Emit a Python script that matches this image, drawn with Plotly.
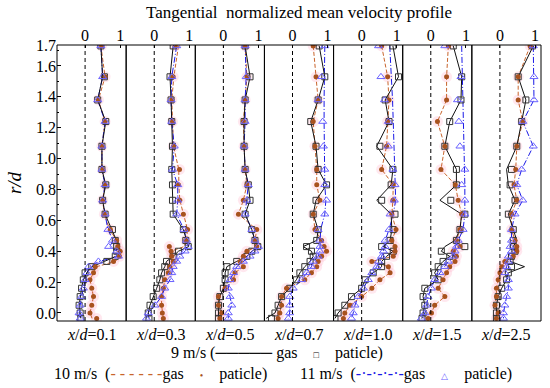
import plotly.graph_objects as go

# ---------------- data ----------------
POSITIONS = ["0.1", "0.3", "0.5", "0.7", "1.0", "1.5", "2.5"]   # x/d of each panel

R = [1.73, 1.53, 1.38, 1.24, 1.08, 0.93, 0.83, 0.73, 0.64, 0.54, 0.47, 0.43,
     0.40, 0.367, 0.334, 0.30, 0.26, 0.215, 0.16, 0.106, 0.05, 0.0, -0.035]

# 9 m/s gas (line) and particle (squares)
GAS9 = [
    [0.45, 0.50, 0.36, 0.59, 0.48, 0.48, 0.59, 0.50, 0.57, 0.75, 0.88, 0.97, 0.98, 0.88, 0.55, 0.19, 0.05, -0.05, -0.10, -0.14, -0.17, -0.14, -0.12],
    [0.54, 0.45, 0.48, 0.50, 0.52, 0.50, 0.52, 0.52, 0.54, 0.83, 0.92, 0.98, 0.69, 0.54, 0.35, 0.30, 0.21, 0.16, 0.07, -0.03, -0.12, -0.17, -0.15],
    [0.62, 0.76, 0.62, 0.59, 0.59, 0.62, 0.71, 0.76, 0.62, 0.81, 0.90, 1.00, 0.81, 0.67, 0.38, 0.10, 0.05, 0.05, 0.00, -0.10, -0.14, -0.14, -0.14],
    [0.76, 0.92, 0.73, 0.52, 0.67, 0.73, 0.97, 0.67, 0.59, 0.73, 0.69, 0.30, 0.54, 0.59, 0.50, 0.35, 0.21, 0.11, -0.08, -0.31, -0.41, -0.50, -0.75],
    [0.89, 1.05, 0.67, 0.78, 0.43, 0.89, 0.84, 0.43, 0.84, 0.86, 0.81, 0.62, 0.90, 0.71, 0.57, 0.57, 0.33, 0.10, 0.00, -0.29, -0.48, -0.67, -0.76],
    [0.64, 0.88, 0.86, 0.54, 0.40, 0.73, 0.73, 0.26, 0.88, 0.83, 0.69, 0.40, 0.30, 0.54, 0.35, 0.21, 0.11, 0.21, -0.17, -0.22, -0.17, -0.22, -0.25],
    [0.95, 0.52, 0.74, 0.62, 0.48, 0.19, 0.24, 0.43, 0.24, 0.38, 0.48, 0.38, 0.43, 0.33, 0.29, 0.70, 0.24, 0.19, 0.05, -0.05, -0.10, -0.10, -0.10],
]
PART9 = [
    [0.45, 0.55, 0.36, 0.59, 0.48, 0.48, 0.59, 0.50, 0.57, 0.78, 0.86, 0.90, 0.90, 0.86, 0.62, 0.19, 0.00, -0.05, -0.10, -0.14, -0.17, -0.14, -0.12],
    [0.54, 0.45, 0.48, 0.50, 0.52, 0.50, 0.52, 0.52, 0.54, 0.83, 0.90, 0.97, 0.69, 0.54, 0.35, 0.30, 0.21, 0.16, 0.07, -0.03, -0.12, -0.17, -0.15],
    [0.62, 0.76, 0.62, 0.59, 0.59, 0.62, 0.71, 0.76, 0.62, 0.81, 0.90, 0.98, 0.81, 0.67, 0.38, 0.10, 0.05, 0.05, 0.00, -0.10, -0.14, -0.14, -0.14],
    [0.76, 0.92, 0.73, 0.52, 0.67, 0.73, 0.97, 0.67, 0.59, 0.73, 0.69, 0.40, 0.54, 0.59, 0.50, 0.35, 0.21, 0.11, -0.08, -0.31, -0.41, -0.50, -0.60],
    [0.89, 1.05, 0.67, 0.78, 0.52, 0.89, 0.84, 0.57, 0.95, 0.90, 0.81, 0.57, 0.90, 0.71, 0.57, 0.57, 0.33, 0.10, 0.00, -0.29, -0.48, -0.67, -0.76],
    [0.64, 0.88, 0.86, 0.54, 0.40, 0.73, 0.73, 0.57, 0.97, 0.83, 0.73, 0.97, 0.30, 0.54, 0.35, 0.21, 0.11, 0.21, -0.17, -0.22, -0.17, -0.22, -0.25],
    [0.93, 0.52, 0.74, 0.62, 0.48, 0.33, 0.29, 0.43, 0.24, 0.38, 0.38, 0.38, 0.43, 0.33, 0.29, 0.33, 0.24, 0.19, 0.05, -0.05, -0.10, -0.10, -0.10],
]
# 10 m/s gas (dashed) and particle (dots)
GAS10 = [
    [0.45, 0.57, 0.38, 0.57, 0.48, 0.48, 0.57, 0.50, 0.55, 0.70, 0.90, 0.95, 1.00, 1.00, 0.86, 0.33, 0.24, 0.14, 0.19, 0.24, 0.19, 0.14, 0.20],
    [0.69, 0.56, 0.50, 0.52, 0.55, 0.70, 0.70, 0.73, 0.83, 0.95, 0.92, 0.85, 0.48, 0.45, 0.54, 0.45, 0.40, 0.30, 0.26, 0.21, 0.21, 0.23, 0.26],
    [0.62, 0.67, 0.62, 0.57, 0.59, 0.62, 0.67, 0.57, 0.43, 0.95, 0.90, 0.95, 0.67, 0.57, 0.48, 0.57, 0.33, 0.29, 0.05, -0.14, -0.14, -0.05, -0.10],
    [0.59, 0.67, 0.73, 0.59, 0.64, 0.69, 0.69, 0.78, 0.59, 0.64, 0.83, 0.90, 0.97, 0.83, 0.73, 0.69, 0.54, 0.35, -0.17, -0.31, -0.31, -0.36, -0.41],
    [0.57, 0.74, 0.78, 0.74, 0.71, 0.57, 0.90, 0.89, 0.86, 0.98, 0.86, 0.95, 0.95, 0.90, 0.29, 0.76, 0.81, 0.52, 0.29, 0.00, -0.33, -0.48, -0.52],
    [0.50, 0.45, 0.45, 0.19, 0.40, 0.29, 0.70, 0.78, 0.88, 0.83, 0.73, 0.83, 0.64, 0.73, 0.69, 0.54, 0.45, 0.35, 0.21, 0.40, 0.11, 0.02, -0.08],
    [0.86, 0.52, 0.52, 0.65, 0.48, 0.45, 0.40, 0.48, 0.33, 0.33, 0.43, 0.48, 0.48, 0.38, 0.14, 0.05, 0.00, -0.05, -0.10, -0.10, -0.14, -0.05, -0.10],
]
PART10 = [
    [0.47, 0.57, 0.38, 0.57, 0.48, 0.50, 0.57, 0.50, 0.55, 0.72, 0.90, 0.93, 1.00, 0.98, 0.81, 0.29, 0.24, 0.14, 0.19, 0.24, 0.19, 0.14, 0.33],
    [0.60, 0.54, 0.50, 0.52, 0.55, 0.72, 0.69, 0.73, 0.83, 0.95, 0.90, 0.43, 0.48, 0.50, 0.54, 0.45, 0.40, 0.30, 0.26, 0.21, 0.21, 0.23, 0.26],
    [0.62, 0.67, 0.62, 0.57, 0.59, 0.62, 0.67, 0.57, 0.43, 0.95, 0.90, 0.95, 0.67, 0.57, 0.48, 0.57, 0.33, 0.29, 0.05, -0.14, -0.14, -0.05, -0.10],
    [0.59, 0.67, 0.73, 0.59, 0.64, 0.69, 0.69, 0.78, 0.59, 0.64, 0.83, 0.90, 0.97, 0.83, 0.73, 0.69, 0.54, 0.35, -0.17, -0.31, -0.31, -0.36, -0.41],
    [0.57, 0.74, 0.78, 0.74, 0.71, 0.57, 0.90, 0.89, 0.86, 0.98, 0.86, 0.95, 0.95, 0.90, 0.29, 0.76, 0.81, 0.52, 0.29, 0.00, -0.33, -0.48, -0.52],
    [0.50, 0.45, 0.45, 0.19, 0.40, 0.29, 0.70, 0.78, 0.88, 0.83, 0.73, 0.83, 0.64, 0.73, 0.69, 0.54, 0.45, 0.35, 0.21, 0.40, 0.11, 0.02, -0.08],
    [0.86, 0.52, 0.52, 0.65, 0.48, 0.45, 0.40, 0.48, 0.33, 0.33, 0.43, 0.48, 0.48, 0.38, 0.14, 0.05, 0.00, -0.05, -0.10, -0.10, -0.14, -0.05, -0.10],
]
# 11 m/s gas (dash-dot) and particle (triangles)
GAS11 = [
    [0.45, 0.50, 0.36, 0.57, 0.48, 0.48, 0.57, 0.50, 0.57, 0.65, 0.80, 0.70, 0.92, 0.95, 0.40, 0.14, 0.05, 0.00, -0.05, -0.10, -0.14, -0.17, -0.14],
    [0.64, 0.50, 0.48, 0.50, 0.57, 0.52, 0.67, 0.67, 0.64, 0.85, 0.92, 0.97, 0.88, 0.73, 0.64, 0.54, 0.50, 0.45, 0.30, 0.21, 0.02, -0.17, -0.22],
    [0.62, 0.65, 0.62, 0.62, 0.59, 0.62, 0.71, 0.67, 0.62, 0.81, 0.90, 1.00, 0.90, 0.76, 0.57, 0.38, 0.29, 0.19, 0.14, 0.19, 0.24, 0.14, 0.14],
    [0.92, 0.90, 0.90, 0.90, 0.90, 0.92, 0.92, 0.95, 0.92, 0.80, 0.78, 0.78, 0.78, 0.73, 0.59, 0.54, 0.40, 0.26, 0.02, -0.08, -0.08, -0.08, -0.12],
    [0.80, 0.85, 0.88, 0.90, 0.92, 0.94, 0.97, 0.97, 0.90, 0.78, 0.67, 0.67, 0.62, 0.57, 0.48, 0.43, 0.29, 0.19, 0.05, -0.10, -0.19, -0.24, -0.29],
    [0.88, 0.90, 0.92, 0.94, 0.95, 0.97, 0.97, 0.97, 0.97, 0.92, 0.78, 0.70, 0.69, 0.64, 0.50, 0.40, 0.26, 0.11, 0.02, -0.08, -0.12, -0.17, -0.27],
    [0.95, 0.97, 0.97, 0.65, 0.95, 0.62, 0.48, 0.65, 0.43, 0.33, 0.33, 0.29, 0.33, 0.24, 0.24, 0.19, 0.14, 0.24, 0.24, 0.19, 0.14, 0.10, 0.10],
]
PART11 = [
    [0.45, 0.50, 0.36, 0.57, 0.48, 0.48, 0.57, 0.50, 0.57, 0.65, 0.78, 0.67, 0.90, 0.95, 0.38, 0.10, 0.05, 0.00, -0.05, -0.10, -0.14, -0.17, -0.14],
    [0.64, 0.50, 0.48, 0.50, 0.57, 0.52, 0.67, 0.67, 0.64, 0.85, 0.92, 0.97, 0.88, 0.73, 0.64, 0.54, 0.50, 0.45, 0.30, 0.21, 0.02, -0.17, -0.22],
    [0.62, 0.65, 0.62, 0.62, 0.59, 0.62, 0.71, 0.67, 0.62, 0.81, 0.90, 1.00, 0.90, 0.76, 0.57, 0.38, 0.29, 0.19, 0.14, 0.19, 0.24, 0.14, 0.14],
    [0.92, 0.83, 0.73, 0.86, 0.88, 0.92, 0.92, 0.97, 0.92, 0.73, 0.78, 0.78, 0.78, 0.73, 0.59, 0.54, 0.40, 0.26, 0.02, -0.08, -0.08, -0.08, -0.12],
    [0.48, 0.55, 0.65, 0.76, 0.76, 0.89, 0.95, 0.93, 0.81, 0.78, 0.67, 0.67, 0.62, 0.57, 0.48, 0.43, 0.29, 0.19, 0.05, -0.10, -0.19, -0.24, -0.29],
    [0.40, 0.86, 0.76, 0.80, 0.83, 0.97, 0.88, 0.97, 0.97, 0.92, 0.78, 0.73, 0.69, 0.64, 0.50, 0.40, 0.26, 0.11, 0.02, -0.08, -0.12, -0.17, -0.27],
    [0.95, 0.97, 0.97, 0.65, 0.95, 0.62, 0.48, 0.65, 0.43, 0.33, 0.33, 0.29, 0.33, 0.24, 0.24, 0.19, 0.14, 0.24, 0.24, 0.19, 0.14, 0.10, 0.10],
]

X_TICKS = [0, 1]
X_TICK_LABELS = ["0", "1"]
Y_TICKS = [0.0, 0.2, 0.4, 0.6, 0.8, 1.0, 1.2, 1.4, 1.6, 1.736]
Y_TICK_LABELS = ["0.0", "0.2", "0.4", "0.6", "0.8", "1.0", "1.2", "1.4", "1.6", "1.7"]

# ---------------- style ----------------
FONT = "Liberation Serif"
BLACK = "#111111"
RED_LINE = "#c8642c"
RED_DOT = "#a8521e"
PINK = "rgba(255,150,180,0.22)"
BLUE_LINE = "#1a1ae6"
BLUE_MARK = "#6b63ff"

fig = go.Figure()
n = len(POSITIONS)
w = 1.0 / n

for i in range(n):
    xa = "x" if i == 0 else f"x{i+1}"
    common = dict(xaxis=xa, yaxis="y", showlegend=False, hoverinfo="skip")
    fig.add_trace(go.Scatter(x=PART10[i], y=R, mode="markers",
                             marker=dict(symbol="circle", size=11, color=PINK, line=dict(width=0)), **common))
    fig.add_trace(go.Scatter(x=GAS10[i], y=R, mode="lines",
                             line=dict(color=RED_LINE, width=1, dash="4px,2px"), **common))
    fig.add_trace(go.Scatter(x=GAS11[i], y=R, mode="lines",
                             line=dict(color=BLUE_LINE, width=1, dash="6px,2px,1px,2px"), **common))
    fig.add_trace(go.Scatter(x=GAS9[i], y=R, mode="lines",
                             line=dict(color=BLACK, width=1), **common))
    fig.add_trace(go.Scatter(x=PART9[i], y=R, mode="markers",
                             marker=dict(symbol="square-open", size=6, color="#333333", line=dict(width=1)), **common))
    fig.add_trace(go.Scatter(x=PART10[i], y=R, mode="markers",
                             marker=dict(symbol="circle", size=5, color=RED_DOT, line=dict(width=0)), **common))
    fig.add_trace(go.Scatter(x=PART11[i], y=R, mode="markers",
                             marker=dict(symbol="triangle-up-open", size=7, color=BLUE_MARK, line=dict(width=1)), **common))

layout = dict(
    width=550, height=388,
    margin=dict(l=57, r=9, t=45, b=67, autoexpand=False),
    paper_bgcolor="white", plot_bgcolor="white",
    font=dict(family=FONT, size=16, color="black"),
    yaxis=dict(range=[-0.052, 1.736], tickvals=Y_TICKS, ticktext=Y_TICK_LABELS,
               ticks="inside", ticklen=4, tickcolor="black", showgrid=False, zeroline=False,
               showline=False, automargin=False, tickfont=dict(size=16, family=FONT),
               minor=dict(tickvals=[0.1, 0.3, 0.5, 0.7, 0.9, 1.1, 1.3, 1.5, 1.7],
                          ticks="inside", ticklen=2, tickcolor="black"),
               title=dict(text="<i>r/d</i>", font=dict(size=19, family=FONT), standoff=9)),
)
shapes = []
annotations = []
for i in range(n):
    key = "xaxis" if i == 0 else f"xaxis{i+1}"
    ref = "x" if i == 0 else f"x{i+1}"
    layout[key] = dict(domain=[i * w, (i + 1) * w], range=[-0.8, 1.17], anchor="y",
                       side="top", tickvals=X_TICKS, ticktext=X_TICK_LABELS,
                       ticks="inside", ticklen=3, tickcolor="black", automargin=False,
                       showgrid=False, zeroline=False, showline=False,
                       tickfont=dict(size=16, family=FONT))
    shapes.append(dict(type="rect", xref=f"{ref} domain", yref="y domain",
                       x0=0, x1=1, y0=0, y1=1, line=dict(color="black", width=1)))
    shapes.append(dict(type="line", xref=ref, yref="y domain", x0=0, x1=0, y0=0, y1=1,
                       line=dict(color="black", width=1, dash="4px,3px")))
    annotations.append(dict(text=f"<i>x</i>/<i>d</i>={POSITIONS[i]}", xref="paper", yref="paper",
                            x=(i + 0.5) * w, y=-0.01, xanchor="center", yanchor="top",
                            showarrow=False, font=dict(size=16, family=FONT)))

annotations.append(dict(text="Tangential  normalized mean velocity profile", xref="paper", yref="paper",
                        x=0.5, y=1.0, yshift=33, xanchor="center", yanchor="middle",
                        showarrow=False, font=dict(size=17, family=FONT)))
annotations.append(dict(
    text="9 m/s (<span style='color:#111111'>─────</span> gas    <span style='font-size:9px'>□</span>    paticle)",
    xref="paper", yref="paper", x=0.455, y=-0.116, xanchor="center", yanchor="middle",
    showarrow=False, font=dict(size=16, family=FONT)))
annotations.append(dict(
    text="10 m/s  (<span style='color:#c8642c'>- - - - - -</span>gas    <span style='color:#a8521e;font-size:10px'>•</span>    paticle)",
    xref="paper", yref="paper", x=-0.01, y=-0.192, xanchor="left", yanchor="middle",
    showarrow=False, font=dict(size=16, family=FONT)))
annotations.append(dict(
    text="11 m/s  (<span style='color:#1a1ae6'>-·-·-·-·-</span>gas    <span style='color:#6b63ff;font-size:9px'>△</span>    paticle)",
    xref="paper", yref="paper", x=0.498, y=-0.192, xanchor="left", yanchor="middle",
    showarrow=False, font=dict(size=16, family=FONT)))

layout["shapes"] = shapes
layout["annotations"] = annotations
fig.update_layout(**layout)
fig.write_html("out.html", config={"displayModeBar": False},
               post_script="document.body.style.margin='0';document.body.style.overflow='hidden';")
